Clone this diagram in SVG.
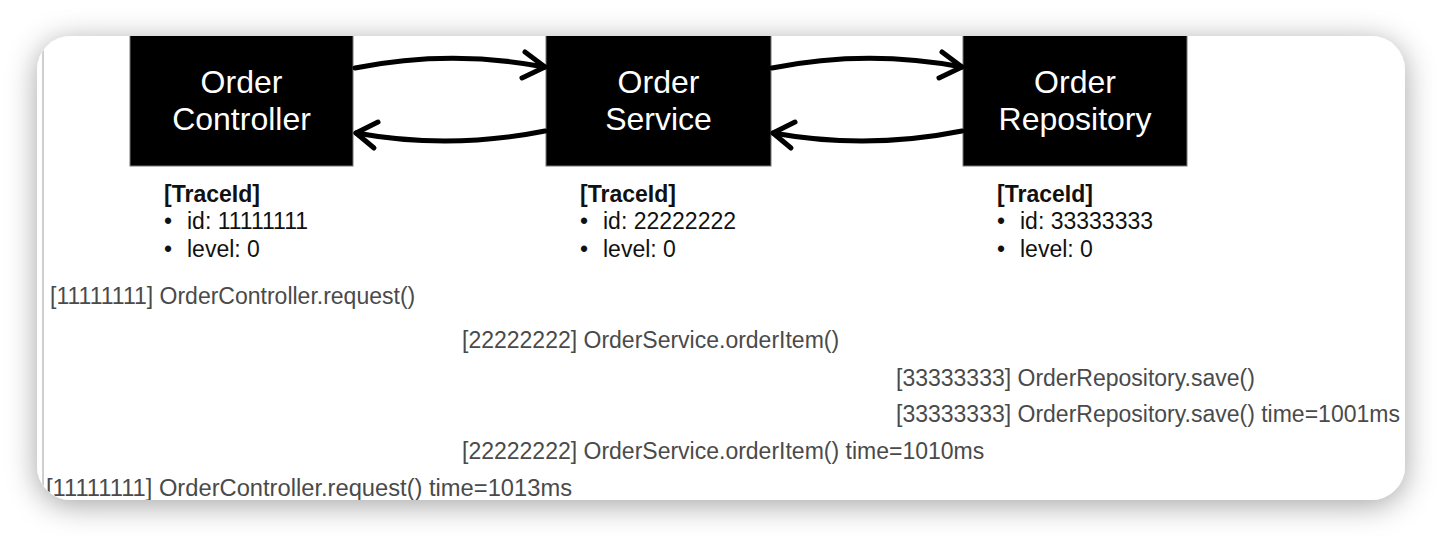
<svg xmlns="http://www.w3.org/2000/svg" width="1442" height="536" viewBox="0 0 1442 536">
  <defs>
    <filter id="shadow" x="-5%" y="-20%" width="110%" height="145%">
      <feDropShadow dx="0" dy="5" stdDeviation="15" flood-color="#000" flood-opacity="0.36"/>
    </filter>
    <clipPath id="cardClip">
      <rect x="37" y="36" width="1368" height="464" rx="34" ry="34"/>
    </clipPath>
    <style>
      .node rect { fill: #000; stroke: #777; stroke-width: 1; }
      .title { font-family: "Liberation Sans", Arial, Helvetica, sans-serif; font-size: 32px; fill: #fff; text-anchor: middle; }
      .trace { font-family: "Liberation Sans", Arial, Helvetica, sans-serif; font-size: 23px; fill: #111; }
      .trace .hd { font-weight: bold; }
      .log { font-family: "Liberation Sans", Arial, Helvetica, sans-serif; font-size: 23px; fill: #4a4a4a; }
      .conn path { fill: none; stroke: #000; stroke-width: 5; stroke-linecap: round; stroke-linejoin: round; }
    </style>
  </defs>

  <rect x="0" y="0" width="1442" height="536" fill="#ffffff"/>
  <rect x="37" y="36" width="1368" height="464" rx="34" ry="34" fill="#ffffff" filter="url(#shadow)"/>

  <g clip-path="url(#cardClip)">
    <line x1="43" y1="40" x2="43" y2="500" stroke="#cfcfcf" stroke-width="2"/>

    <g id="node-order-controller" class="node">
      <rect x="130" y="30" width="223" height="136"/>
      <text class="title" x="241.5" y="93">Order</text>
      <text class="title" x="241.5" y="130">Controller</text>
    </g>
    <g id="node-order-service" class="node">
      <rect x="546" y="30" width="225" height="136"/>
      <text class="title" x="658.5" y="93">Order</text>
      <text class="title" x="658.5" y="130">Service</text>
    </g>
    <g id="node-order-repository" class="node">
      <rect x="963" y="30" width="224" height="136"/>
      <text class="title" x="1075" y="93">Order</text>
      <text class="title" x="1075" y="130">Repository</text>
    </g>

    <g id="connectors" class="conn">
      <path d="M355,68 Q450,49 545,67"/>
      <path d="M525,52 L545,67 L522,78"/>
      <path d="M545,131 Q450,150 356,133"/>
      <path d="M378,122 L356,133 L374,148"/>
      <path d="M772,68 Q867,49 962,67"/>
      <path d="M942,52 L962,67 L939,78"/>
      <path d="M962,131 Q867,150 773,133"/>
      <path d="M795,122 L773,133 L791,148"/>
    </g>

    <g id="trace-controller" class="trace">
      <text class="hd" x="164" y="202">[TraceId]</text>
      <text x="164" y="229">•</text>
      <text x="187" y="229">id: 11111111</text>
      <text x="164" y="257">•</text>
      <text x="187" y="257">level: 0</text>
    </g>
    <g id="trace-service" class="trace">
      <text class="hd" x="580" y="202">[TraceId]</text>
      <text x="580" y="229">•</text>
      <text x="603" y="229">id: 22222222</text>
      <text x="580" y="257">•</text>
      <text x="603" y="257">level: 0</text>
    </g>
    <g id="trace-repository" class="trace">
      <text class="hd" x="997" y="202">[TraceId]</text>
      <text x="997" y="229">•</text>
      <text x="1020" y="229">id: 33333333</text>
      <text x="997" y="257">•</text>
      <text x="1020" y="257">level: 0</text>
    </g>

    <g id="log" class="log">
      <text x="50" y="304">[11111111] OrderController.request()</text>
      <text x="462" y="348">[22222222] OrderService.orderItem()</text>
      <text x="896" y="386">[33333333] OrderRepository.save()</text>
      <text x="896" y="422">[33333333] OrderRepository.save() time=1001ms</text>
      <text x="462" y="459">[22222222] OrderService.orderItem() time=1010ms</text>
      <text x="46" y="496" textLength="526" lengthAdjust="spacingAndGlyphs">[11111111] OrderController.request() time=1013ms</text>
    </g>
  </g>
</svg>
